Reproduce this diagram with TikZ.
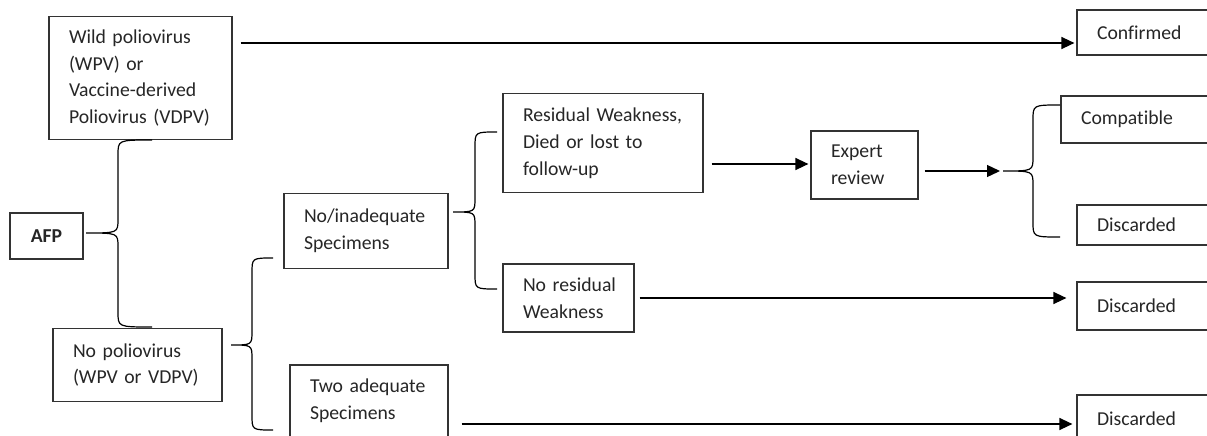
\documentclass[tikz,border=0pt]{standalone}
\usepackage{fontspec}
\setmainfont{Carlito}[Ligatures=NoCommon]
\usetikzlibrary{arrows.meta,calc}
\hyphenpenalty=10000
\exhyphenpenalty=10000
\hbadness=10000
\hfuzz=30pt
\definecolor{boxgray}{HTML}{333333}
\definecolor{textgray}{HTML}{262626}
\tikzset{
  box/.style={draw=boxgray, line width=1.2pt, inner xsep=20pt, inner ysep=0pt,
    align=left, text=textgray, font=\fontsize{19.7}{26.8}\selectfont},
  bx/.style n args={2}{box, text width=#1pt-40pt, minimum width=#1pt, minimum height=#2pt},
  flow/.style={-{Triangle[length=13pt,width=12pt]}, line width=1.3pt, black},
  brcl/.style={line width=1.2pt, black},
}
\newcommand{\flowbrace}[4]{%
  \draw[brcl] (#2) .. controls (#4 |- #2) .. ($(#4 |- #2)+(0,15)$)
    -- ($(#4)+(0,-14)$) .. controls (#4) .. (#1)
    .. controls (#4) .. ($(#4)+(0,14)$)
    -- ($(#4 |- #3)+(0,-15)$) .. controls (#4 |- #3) .. (#3);}
\begin{document}
\begin{tikzpicture}[x=1pt,y=-1pt]
\fill[white] (0,0) rectangle (1207,436);
\clip (0,0) rectangle (1207,436);

% nodes
\node[bx={183}{123}] (wpv) at (140.5,78) {Wild~poliovirus\\(WPV)~or\\Vaccine-derived\\Poliovirus~(VDPV)};
\node[box, inner xsep=0pt, minimum width=73pt, minimum height=46pt, font=\fontsize{19.7}{26.8}\selectfont\bfseries] (afp) at (46.5,236) {AFP};
\node[bx={169}{73}] (nopolio) at (137.5,365) {No~poliovirus\\(WPV~or~VDPV)};
\node[bx={164}{75}] (noinad) at (366,231) {No/inadequate\\Specimens};
\node[bx={158}{72}] (twoadeq) at (369,401) {Two~adequate\\Specimens};
\node[bx={200}{99}] (resid) at (603,143) {Residual~Weakness,\\Died~or~lost~to\\follow-up};
\node[bx={131}{68}] (nores) at (568.5,298) {No~residual\\Weakness};
\node[bx={107}{68}] (expert) at (864.5,165) {Expert\\review};
\node[bx={200}{45}] (confirmed) at (1177,32.5) {Confirmed};
\node[bx={200}{47}] (compatible) at (1161,119.5) {Compatible};
\node[bx={200}{40}] (disc1) at (1177,225) {Discarded};
\node[bx={200}{48}] (disc2) at (1177,306) {Discarded};
\node[bx={200}{48}] (disc3) at (1177,419) {Discarded};

% brace points
\coordinate (aT) at (86,233);   \coordinate (aU) at (152,140); \coordinate (aD) at (152,327); \coordinate (aS) at (118,233);
\coordinate (bT) at (231,345);  \coordinate (bU) at (273,258); \coordinate (bD) at (273,430); \coordinate (bS) at (252,345);
\coordinate (cT) at (453,212);  \coordinate (cU) at (497,132); \coordinate (cD) at (497,289); \coordinate (cS) at (475,212);
\coordinate (dT) at (1003,171); \coordinate (dU) at (1060,105); \coordinate (dD) at (1060,237); \coordinate (dS) at (1033,171);

\flowbrace{aT}{aU}{aD}{aS}
\flowbrace{bT}{bU}{bD}{bS}
\flowbrace{cT}{cU}{cD}{cS}
\flowbrace{dT}{dU}{dD}{dS}

% arrows
\coordinate (c1) at ([yshift=-10.5pt]confirmed.west);
\draw[flow, shorten <=8pt, shorten >=2pt] (wpv.east |- c1) -- (c1);
\coordinate (c2) at ([yshift=1pt]expert.west);
\draw[flow, shorten <=8pt, shorten >=2pt] (resid.east |- c2) -- (c2);
\draw[flow, shorten <=6pt, shorten >=3pt] (expert.east |- dT) -- (dT);
\draw[flow, shorten <=5pt, shorten >=10pt] (nores.east) -- (nores.east -| disc2.west);
\coordinate (c3) at ([yshift=-5pt]disc3.west);
\draw[flow, shorten <=13pt, shorten >=4pt] (twoadeq.east |- c3) -- (c3);
\end{tikzpicture}
\end{document}
